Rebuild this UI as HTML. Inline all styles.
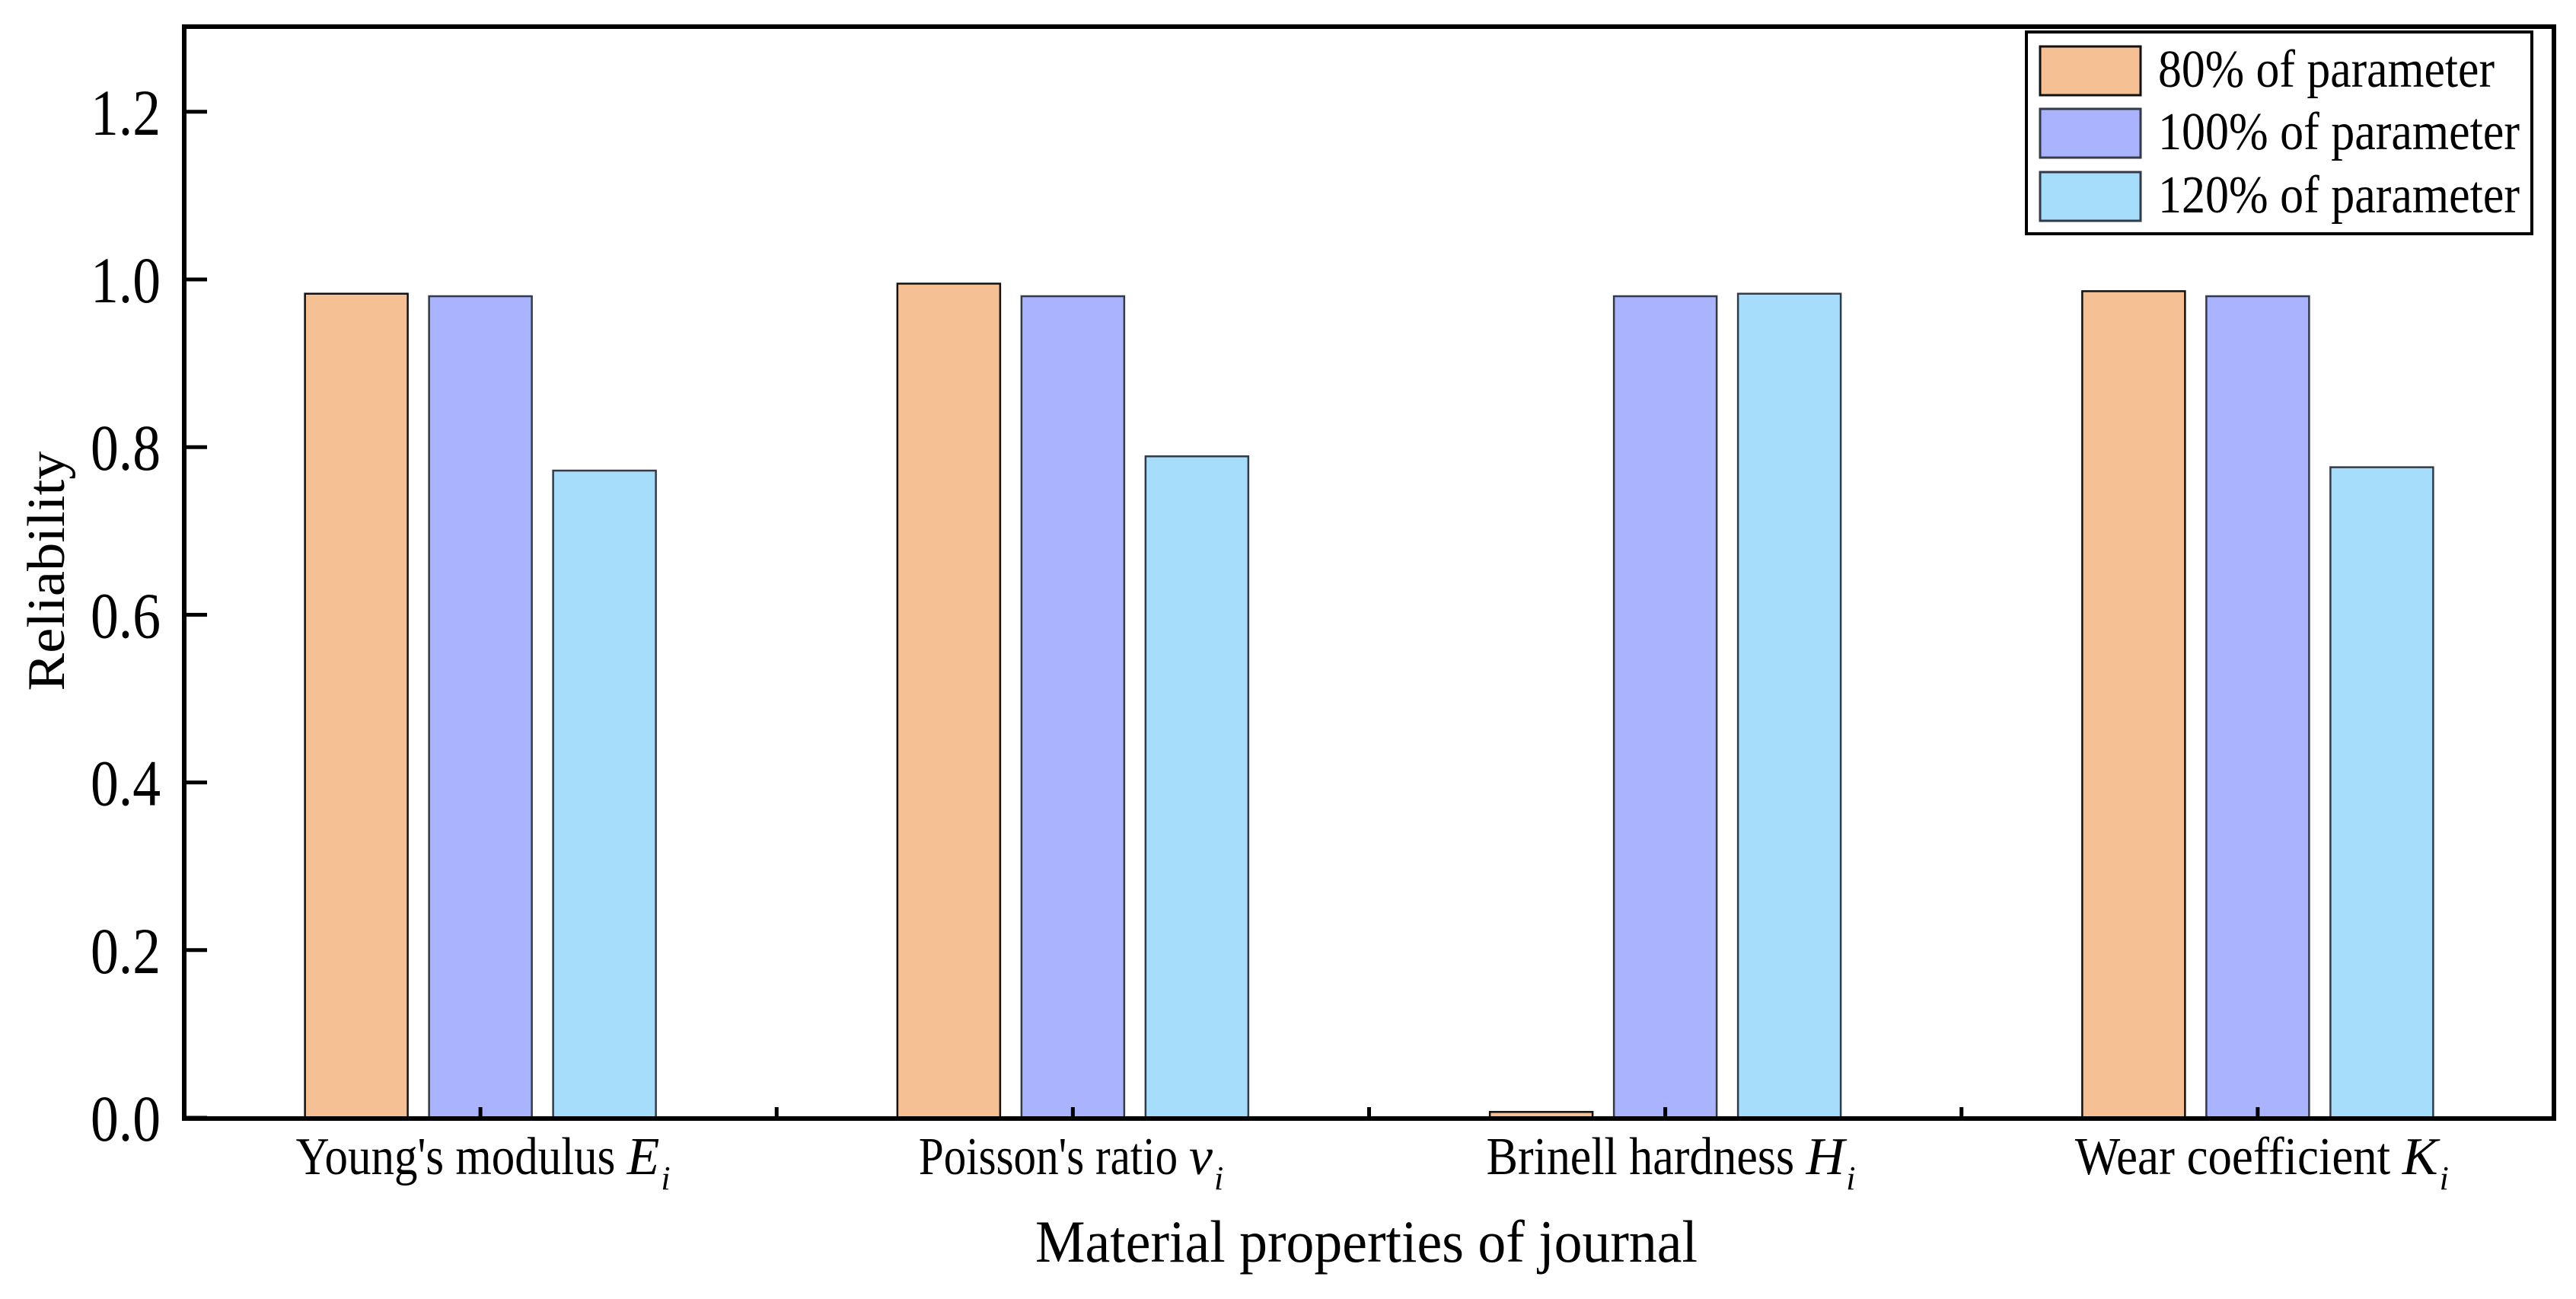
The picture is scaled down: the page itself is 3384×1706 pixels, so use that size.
<!DOCTYPE html>
<html><head><meta charset="utf-8">
<style>
html,body{margin:0;padding:0;background:#fff;}
svg{display:block;}
text{font-family:"Liberation Serif","Times New Roman",serif;fill:#000;}
</style></head>
<body>
<svg id="chart" width="3384" height="1706" viewBox="0 0 3384 1706" xmlns="http://www.w3.org/2000/svg">
<g id="bars"></g>
<g id="axes"></g>
<g id="legend"></g>
</svg>
<script>
const categories = ["Young's modulus", "Poisson's ratio", "Brinell hardness", "Wear coefficient"];
const categorySymbols = ["E", "v", "H", "K"];
const seriesNames = ["80% of parameter", "100% of parameter", "120% of parameter"];
const series80 = [0.983, 0.995, 0.007, 0.986];
const series100 = [0.980, 0.980, 0.980, 0.980];
const series120 = [0.772, 0.789, 0.983, 0.776];
const yTicks = [0.0, 0.2, 0.4, 0.6, 0.8, 1.0, 1.2];
const yTickLabels = ["0.0", "0.2", "0.4", "0.6", "0.8", "1.0", "1.2"];

const NS = "http://www.w3.org/2000/svg";
const L = 242, R = 3355, T = 35, B = 1469;
const Y0 = 1468, PX_PER_UNIT = 1101;
const yScale = v => Y0 - v * PX_PER_UNIT;
const groupW = (R - L) / categories.length;
const xCenter = i => L + groupW * (i + 0.5);
const barW = 135, barStep = 163;
const fills = ["#F6C095", "#AAB4FE", "#A6DDFB"];
const strokes = ["#111", "#333a48", "#333a48"];
const allSeries = [series80, series100, series120];

function mk(tag, attrs, parent) {
  const e = document.createElementNS(NS, tag);
  for (const k in attrs) e.setAttribute(k, attrs[k]);
  parent.appendChild(e);
  return e;
}

const barsG = document.getElementById('bars');
allSeries.forEach((s, si) => {
  s.forEach((v, ci) => {
    const cx = xCenter(ci) + (si - 1) * barStep;
    const y = yScale(v);
    const r = mk('rect', {x: cx - barW / 2, y: y, width: barW, height: Y0 - y, fill: fills[si], stroke: strokes[si], 'stroke-width': 2.5}, barsG);
    
    
  });
});

const axG = document.getElementById('axes');
const frame = mk('rect', {x: L, y: T, width: R - L, height: B - T, fill: 'none', stroke: '#000', 'stroke-width': 6}, axG);



yTicks.forEach((v, i) => {
  const y = yScale(v);
  const t = mk('line', {x1: L, x2: L + 30, y1: y, y2: y, stroke: '#000', 'stroke-width': 5}, axG);
  
  
  const lb = mk('text', {x: 211, y: y + 30, 'font-size': 86, 'text-anchor': 'end', textLength: 92, lengthAdjust: 'spacingAndGlyphs'}, axG);
  lb.textContent = yTickLabels[i];
  
  
});

for (let i = 1; i < categories.length; i++) {
  const xs = L + groupW * i;
  const t = mk('line', {x1: xs, x2: xs, y1: B, y2: B - 15, stroke: '#000', 'stroke-width': 5}, axG);
  
  
}
const labelWidths = [435, 355, 420, 430];
categories.forEach((c, i) => {
  const cx = xCenter(i);
  const t = mk('line', {x1: cx, x2: cx, y1: B, y2: B - 15, stroke: '#000', 'stroke-width': 5}, axG);
  
  
  const w = labelWidths[i];
  const tx = mk('text', {x: cx - w / 2 - 25, y: 1542, 'font-size': 70}, axG);
  
  
  const s1 = mk('tspan', {textLength: w, lengthAdjust: 'spacingAndGlyphs'}, tx);
  s1.textContent = categories[i] + ' ';
  const sym = mk('tspan', {'font-style': 'italic'}, tx);
  sym.textContent = categorySymbols[i];
  const s2 = mk('tspan', {'font-size': 44, 'font-style': 'italic', dy: 20, dx: 2}, tx);
  s2.textContent = 'i';
});

const xt = mk('text', {x: 1795, y: 1657, 'font-size': 78, 'text-anchor': 'middle', textLength: 870, lengthAdjust: 'spacingAndGlyphs'}, axG);
xt.textContent = 'Material properties of journal';



const yt = mk('text', {x: 0, y: 0, 'font-size': 70, 'text-anchor': 'middle', transform: 'translate(84,750) rotate(-90)', textLength: 315, lengthAdjust: 'spacingAndGlyphs'}, axG);
yt.textContent = 'Reliability';



const lg = document.getElementById('legend');
const lbox = mk('rect', {x: 2662, y: 42, width: 664, height: 265, fill: '#fff', stroke: '#000', 'stroke-width': 4}, lg);


const rowY = [61, 143, 226];
const textW = [442, 475, 475];
seriesNames.forEach((n, i) => {
  const sw = mk('rect', {x: 2680, y: rowY[i], width: 132, height: 64, fill: fills[i], stroke: strokes[i], 'stroke-width': 3}, lg);
  
  
  const t = mk('text', {x: 2835, y: rowY[i] + 53, 'font-size': 70, textLength: textW[i], lengthAdjust: 'spacingAndGlyphs'}, lg);
  t.textContent = n;
  
  
});
</script>
</body></html>
